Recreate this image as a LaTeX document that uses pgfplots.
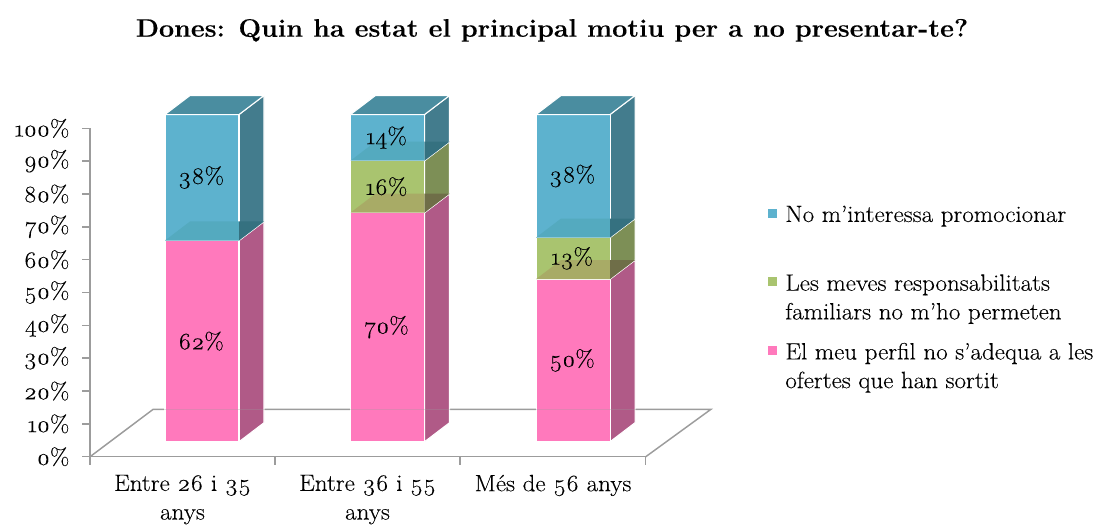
\documentclass[border=0pt]{standalone}
\usepackage{fontspec}
\setmainfont{Latin Modern Roman}[Numbers=OldStyle,FakeStretch=1.06,FakeBold=0.2]
\usepackage{pgfplots}
\pgfplotsset{compat=1.18}
\definecolor{pk}{HTML}{FF79BC}
\definecolor{pks}{HTML}{B05A87}
\definecolor{gn}{HTML}{A9C46F}
\definecolor{gns}{HTML}{7D8F56}
\definecolor{gnt}{HTML}{A8AB66}
\definecolor{gnts}{HTML}{6F6E48}
\definecolor{bl}{HTML}{5DB2CE}
\definecolor{bls}{HTML}{437C8D}
\definecolor{blt}{HTML}{54AABF}
\definecolor{blts}{HTML}{357180}
\definecolor{bltop}{HTML}{4A8DA0}
\definecolor{axc}{HTML}{9C9C9C}
% #1 left x, #2 bottom %, #3 top %, #4 front, #5 side, #6 inner-top front, #7 inner-top side, #8 label
\newcommand\seg[8]{%
  \pgfmathsetmacro\xa{#1+74}\pgfmathsetmacro\xb{#1+99}\pgfmathsetmacro\xc{#1+25}\pgfmathsetmacro\xm{#1+36}%
  \pgfmathsetmacro\ya{4.57+#2*0.9963}\pgfmathsetmacro\yb{4.57+#3*0.9963}%
  \pgfmathsetmacro\yad{\ya+5.79}\pgfmathsetmacro\ybd{\yb+5.79}\pgfmathsetmacro\ym{(\ya+\yb)/2}%
  \addplot[fill=#5,draw=white,line width=.8pt,forget plot] coordinates {(\xa,\ya)(\xb,\yad)(\xb,\ybd)(\xa,\yb)(\xa,\ya)};
  \addplot[fill=#4,draw=white,line width=.8pt,forget plot] coordinates {(#1,\ya)(\xa,\ya)(\xa,\yb)(#1,\yb)(#1,\ya)};
  \ifdim#2pt>0pt
  \addplot[fill=#6,draw=none,forget plot] coordinates {(#1,\ya)(\xc,\yad)(\xa,\yad)(\xa,\ya)(#1,\ya)};
  \addplot[fill=#7,draw=none,forget plot] coordinates {(\xa,\ya)(\xb,\yad)(\xa,\yad)(\xa,\ya)};
  \fi
  \edef\tmp{\noexpand\node[font=\noexpand\lbl] at (axis cs:\xm,\ym) {\unexpanded{#8}};}\tmp
}
\newcommand\capf[1]{%
  \pgfmathsetmacro\xa{#1+74}\pgfmathsetmacro\xb{#1+99}\pgfmathsetmacro\xc{#1+25}%
  \pgfmathsetmacro\yb{4.57+100*0.9963}\pgfmathsetmacro\ybd{\yb+5.79}%
  \addplot[fill=bltop,draw=white,line width=.8pt,forget plot] coordinates {(#1,\yb)(\xa,\yb)(\xb,\ybd)(\xc,\ybd)(#1,\yb)};
}
\newcommand\lbl{\fontsize{17.7}{21.5}\selectfont}
\begin{document}
\begin{tikzpicture}
\path[use as bounding box] (0,0) rectangle (829.5pt,393.75pt);
\node[font=\bfseries\fontsize{19}{22}\selectfont] at (414pt,371pt) {Dones: Quin ha estat el principal motiu per a no presentar-te?};
\begin{axis}[
  at={(67.5pt,51.2pt)},anchor=south west,
  width=416.8pt,height=246.3pt,scale only axis,clip=false,
  xmin=90,xmax=645.7,ymin=0,ymax=100,
  axis x line=bottom,axis y line=left,
  axis line style={axc,line width=1.1pt,-},
  tick style={axc,line width=1.1pt},
  tick align=outside,
  major tick length=6pt,
  xtick={90,275,460,645.7},
  xticklabels={},
  extra x ticks={182.5,367.5,553},
  extra x tick labels={{Entre 26 i 35\\anys},{Entre 36 i 55\\anys},{Més de 56 anys}},
  extra x tick style={major tick length=0pt,xticklabel style={align=center,font=\lbl,yshift=-10pt}},
  ytick={0,10,...,100},
  yticklabels={0\%,10\%,20\%,30\%,40\%,50\%,60\%,70\%,80\%,90\%,100\%},
  yticklabel style={font=\lbl,xshift=-6pt},
  legend style={draw=none,fill=none,at={(1.2136,0.793)},anchor=north west,
    cells={anchor=base west},row sep=31pt,font=\lbl},
  legend cell align=left,
]
\addplot[axc,line width=1.1pt,forget plot] coordinates {(90,0)(153,14.4)(710.7,14.4)(645.7,0)};
\seg{165}{0}{61.5}{pk}{pks}{pk}{pks}{62\%}
\seg{165}{61.5}{100}{bl}{bls}{blt}{blts}{38\%}
\capf{165}
\seg{350.5}{0}{70}{pk}{pks}{pk}{pks}{70\%}
\seg{350.5}{70}{85.9}{gn}{gns}{gnt}{gnts}{16\%}
\seg{350.5}{85.9}{100}{bl}{bls}{blt}{blts}{14\%}
\capf{350.5}
\seg{536}{0}{49.7}{pk}{pks}{pk}{pks}{50\%}
\seg{536}{49.7}{62.4}{gn}{gns}{gnt}{gnts}{13\%}
\seg{536}{62.4}{100}{bl}{bls}{blt}{blts}{38\%}
\capf{536}
\addplot[axc,line width=1.1pt,opacity=.3,forget plot] coordinates {(153,14.4)(710.7,14.4)};
\addlegendimage{only marks,mark=square*,mark size=3pt,bl,mark options={draw=bl,fill=bl}}
\addlegendentry{\begin{tabular}[t]{@{\hspace{4.5pt}}l@{}}No m’interessa promocionar\\\strut\end{tabular}}
\addlegendimage{only marks,mark=square*,mark size=3pt,gn,mark options={draw=gn,fill=gn}}
\addlegendentry{\begin{tabular}[t]{@{\hspace{4.5pt}}l@{}}Les meves responsabilitats\\familiars no m’ho permeten\end{tabular}}
\addlegendimage{only marks,mark=square*,mark size=3pt,pk,mark options={draw=pk,fill=pk}}
\addlegendentry{\begin{tabular}[t]{@{\hspace{4.5pt}}l@{}}El meu perfil no s’adequa a les\\ofertes que han sortit\end{tabular}}
\end{axis}
\end{tikzpicture}
\end{document}
